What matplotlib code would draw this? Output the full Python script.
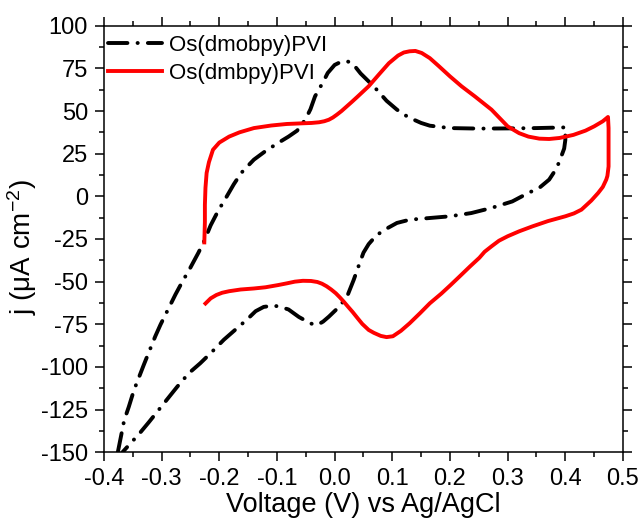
import matplotlib
matplotlib.use("Agg")
import matplotlib.pyplot as plt
from matplotlib.ticker import MultipleLocator, FormatStrFormatter

plt.rcParams["font.family"] = ["Liberation Sans", "DejaVu Sans"]
plt.rcParams["mathtext.default"] = "regular"
plt.rcParams["axes.unicode_minus"] = False

# Os(dmobpy)PVI: anodic (forward) sweep then cathodic (reverse) sweep
dmobpy_fwd_v = [-0.376, -0.365, -0.357, -0.348, -0.331, -0.311, -0.302, -0.276, -0.265, -0.25,
                -0.236, -0.226, -0.215, -0.204, -0.195, -0.187, -0.175, -0.162, -0.15, -0.14,
                -0.12, -0.098, -0.08, -0.065, -0.051, -0.042, -0.034, -0.02, -0.012, 0.0,
                0.012, 0.023, 0.032, 0.045, 0.06, 0.073, 0.09, 0.108, 0.12, 0.13,
                0.15, 0.165, 0.2, 0.25, 0.3, 0.35, 0.4]
dmobpy_fwd_j = [-150, -131.3, -123.4, -113.6, -98.8, -82, -75.2, -57.5, -50.6, -41.7,
                -32.9, -26, -17, -9.8, -4.5, 0, 7, 13.7, 18, 21.5,
                26.5, 31.3, 35, 38.5, 44.9, 51, 58.6, 67, 72.3, 77,
                79, 79, 77.5, 72, 67, 62.5, 56, 50.8, 48, 46,
                43, 41.4, 40, 39.7, 39.8, 40, 40.4]
dmobpy_rev_v = [0.4, 0.4, 0.398, 0.393, 0.385, 0.372, 0.355, 0.336, 0.308, 0.272,
                0.237, 0.2, 0.165, 0.13, 0.108, 0.087, 0.072, 0.059, 0.05, 0.044,
                0.033, 0.023, 0.012, 0.002, -0.01, -0.02, -0.03, -0.042, -0.055, -0.062,
                -0.08, -0.094, -0.106, -0.123, -0.137, -0.152, -0.169, -0.192, -0.215, -0.233,
                -0.253, -0.273, -0.287, -0.322, -0.339, -0.36, -0.368]
dmobpy_rev_j = [40.4, 33, 28, 23.4, 16.5, 9.8, 5, 2, -3, -6.8,
                -9.8, -11.7, -12.7, -13.7, -15.6, -19.5, -23, -28, -33, -38.5,
                -49, -57.5, -63, -66.6, -70.5, -73.4, -75.4, -74.5, -72, -70.7,
                -66.3, -64.8, -64, -64.8, -67.3, -72.2, -77.2, -84, -91.9, -97.8,
                -103.7, -111.6, -117.5, -132.3, -139.2, -147, -150]

# Os(dmbpy)PVI: anodic (forward) sweep then cathodic (reverse) sweep
dmbpy_fwd_v = [-0.226, -0.225, -0.225, -0.224, -0.222, -0.218, -0.211, -0.2, -0.183, -0.165,
               -0.14, -0.11, -0.083, -0.055, -0.04, -0.027, -0.018, -0.01, -0.003, 0.004,
               0.012, 0.02, 0.03, 0.04, 0.059, 0.077, 0.094, 0.11, 0.12, 0.13,
               0.14, 0.151, 0.165, 0.18, 0.2, 0.22, 0.243, 0.272, 0.3, 0.32,
               0.336, 0.355, 0.372, 0.39, 0.414, 0.435, 0.45, 0.465, 0.474]
dmbpy_fwd_j = [-27, -15, -5, 5, 13.7, 20, 27.3, 31.5, 35, 37.5,
               40, 41.5, 42.4, 42.8, 43.0, 43.4, 44.0, 44.9, 46.2, 47.9,
               50.0, 52.4, 55.4, 58.5, 64.5, 71.5, 78, 82.5, 84.3, 85,
               85.2, 84, 81, 76.5, 70.3, 64.5, 58.6, 50.8, 41, 37,
               35, 33.8, 33.6, 34.2, 36, 38.5, 41, 44, 46.5]
dmbpy_rev_v = [0.475, 0.475, 0.475, 0.473, 0.471, 0.465, 0.457, 0.445, 0.428, 0.415,
               0.4, 0.37, 0.343, 0.32, 0.3, 0.285, 0.272, 0.26, 0.251, 0.235,
               0.215, 0.201, 0.185, 0.165, 0.148, 0.13, 0.115, 0.101, 0.09, 0.08,
               0.068, 0.059, 0.048, 0.04, 0.031, 0.023, 0.016, 0.009, 0.002, -0.006,
               -0.014, -0.022, -0.03, -0.041, -0.055, -0.069, -0.083, -0.098, -0.12, -0.14,
               -0.163, -0.183, -0.195, -0.205, -0.215, -0.224]
dmbpy_rev_j = [40, 30, 17.5, 12, 9.8, 5.5, 2, -2.5, -7.8, -10,
               -11.7, -14.5, -17.6, -20.5, -23.4, -26, -29.3, -32.5, -36, -41,
               -47.5, -52, -57, -62.7, -68.5, -74.4, -78.8, -82, -82.5, -81.8,
               -80, -78.3, -74.8, -71.5, -67.7, -64.6, -61.8, -59.2, -56.8, -54.6,
               -52.7, -51.2, -50.2, -49.6, -49.5, -50, -51, -52, -53.3, -54,
               -54.6, -55.6, -56.5, -57.8, -59.8, -62.8]

labels = ["Os(dmobpy)PVI", "Os(dmbpy)PVI"]
x_ticks = [-0.4, -0.3, -0.2, -0.1, 0.0, 0.1, 0.2, 0.3, 0.4, 0.5]
y_ticks = [-150, -125, -100, -75, -50, -25, 0, 25, 50, 75, 100]

fig = plt.figure(figsize=(6.41, 5.20), dpi=100)
ax = fig.add_axes([0.1622, 0.1302, 0.8097, 0.8204])

lw = 2.8
dashdot = (0, (5.0, 2.6, 0.05, 2.6))
ax.plot(dmobpy_fwd_v + dmobpy_rev_v, dmobpy_fwd_j + dmobpy_rev_j,
        color="black", lw=lw, linestyle=dashdot, dash_capstyle="round",
        label=labels[0])
ax.plot(dmbpy_fwd_v + dmbpy_rev_v, dmbpy_fwd_j + dmbpy_rev_j,
        color="#ff0000", lw=lw, solid_joinstyle="round", label=labels[1])

ax.set_xlim(-0.4, 0.5)
ax.set_ylim(-150, 100)
ax.set_xticks(x_ticks)
ax.set_yticks(y_ticks)
ax.xaxis.set_major_formatter(FormatStrFormatter("%.1f"))
ax.xaxis.set_minor_locator(MultipleLocator(0.05))
ax.yaxis.set_minor_locator(MultipleLocator(12.5))

ax.tick_params(which="both", direction="out", top=True, right=True,
               width=1.1, labelsize=17, pad=5)
ax.tick_params(which="major", length=6.5)
ax.tick_params(which="minor", length=3.6)
for s in ax.spines.values():
    s.set_linewidth(1.1)

ax.set_xlabel("Voltage (V) vs Ag/AgCl", fontsize=19.5, labelpad=1)
ax.set_ylabel("j (\u03bcA cm$^{-2}$)", fontsize=20, labelpad=1, y=0.48)

ax.legend(loc="upper left", frameon=False, fontsize=16, handlelength=2.45,
          handletextpad=0.3, labelspacing=0.32, borderaxespad=0.0,
          borderpad=0.4, bbox_to_anchor=(-0.0096, 1.0))

fig.savefig("out.png", dpi=100)
